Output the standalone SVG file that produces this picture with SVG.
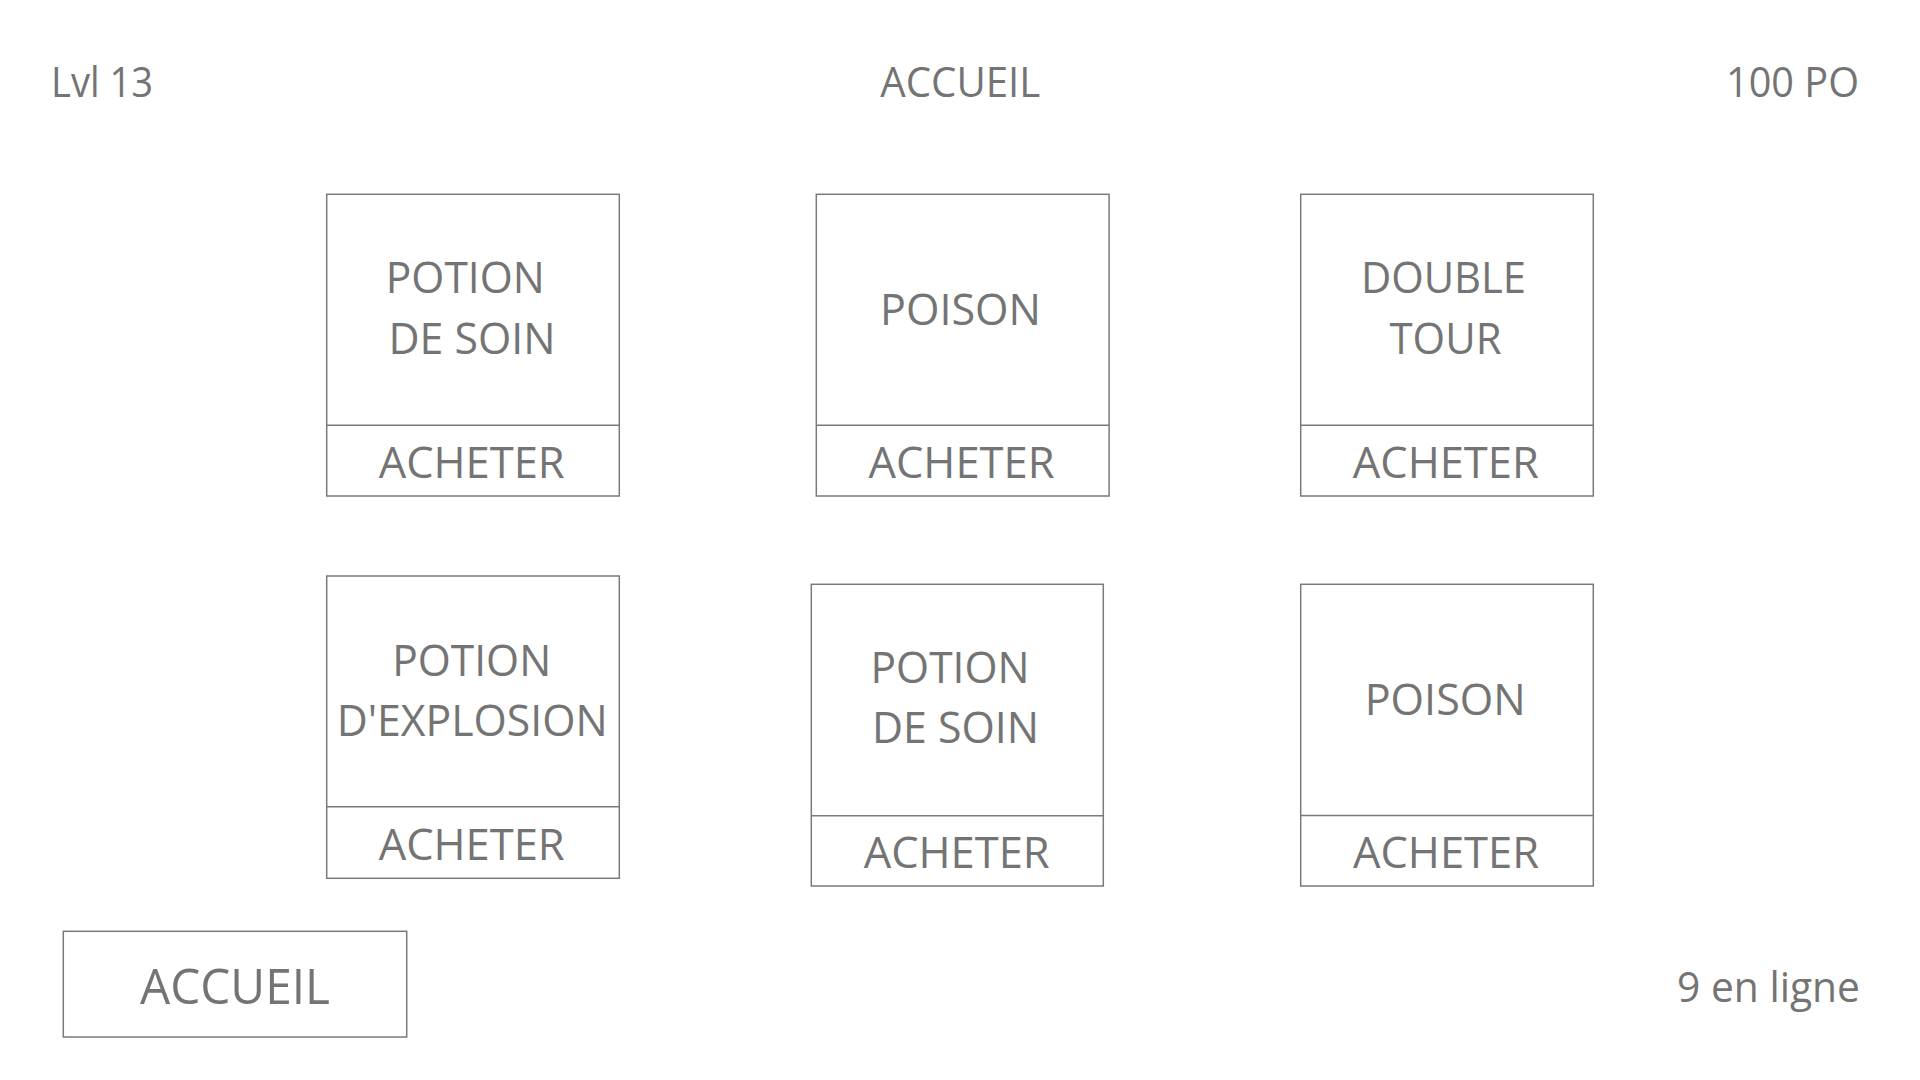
<svg xmlns="http://www.w3.org/2000/svg" width="1920" height="1080" viewBox="0 0 1920 1080">
<style>
  .box { fill: #ffffff; stroke: #7a7a7a; stroke-width: 1.5; }
  .div { stroke: #7a7a7a; stroke-width: 1.5; }
  text { font-family: "Open Sans", "Noto Sans", "Liberation Sans", sans-serif; font-weight: 400; fill: #747474; }
  .lbl { font-size: 44px; text-anchor: middle; }
  .hdr { font-size: 42px; }
  .btn { font-size: 50px; text-anchor: middle; }
</style>
<rect width="1920" height="1080" fill="#ffffff"/>

<g id="header">
  <text class="hdr" x="51" y="96.5" textLength="102" lengthAdjust="spacingAndGlyphs">Lvl 13</text>
  <text class="hdr" x="960.3" y="96.5" text-anchor="middle" textLength="160" lengthAdjust="spacingAndGlyphs">ACCUEIL</text>
  <text class="hdr" x="1859" y="96.5" text-anchor="end" textLength="133" lengthAdjust="spacingAndGlyphs">100 PO</text>
</g>

<g id="item-potion-soin-1">
  <rect class="box" x="326.7" y="194.3" width="292.6" height="301.7"/>
  <line class="div" x1="326.7" y1="425.3" x2="619.3" y2="425.3"/>
  <text class="lbl" x="465.3" y="293.3" textLength="159" lengthAdjust="spacingAndGlyphs">POTION</text>
  <text class="lbl" x="472" y="353.5" textLength="167" lengthAdjust="spacingAndGlyphs">DE SOIN</text>
  <text class="lbl" x="471.7" y="477.5" textLength="186" lengthAdjust="spacingAndGlyphs">ACHETER</text>
</g>

<g id="item-poison-1">
  <rect class="box" x="816.3" y="194.3" width="292.8" height="301.7"/>
  <line class="div" x1="816.3" y1="425.3" x2="1109.1" y2="425.3"/>
  <text class="lbl" x="960.5" y="325" textLength="161" lengthAdjust="spacingAndGlyphs">POISON</text>
  <text class="lbl" x="961.5" y="477.5" textLength="186" lengthAdjust="spacingAndGlyphs">ACHETER</text>
</g>

<g id="item-double-tour">
  <rect class="box" x="1300.7" y="194.3" width="292.6" height="301.7"/>
  <line class="div" x1="1300.7" y1="425.3" x2="1593.3" y2="425.3"/>
  <text class="lbl" x="1443.5" y="293.3" textLength="165" lengthAdjust="spacingAndGlyphs">DOUBLE</text>
  <text class="lbl" x="1445.5" y="354" textLength="112" lengthAdjust="spacingAndGlyphs">TOUR</text>
  <text class="lbl" x="1445.8" y="478" textLength="186" lengthAdjust="spacingAndGlyphs">ACHETER</text>
</g>

<g id="item-potion-explosion">
  <rect class="box" x="326.7" y="576" width="292.6" height="302.3"/>
  <line class="div" x1="326.7" y1="806.7" x2="619.3" y2="806.7"/>
  <text class="lbl" x="471.7" y="676" textLength="159" lengthAdjust="spacingAndGlyphs">POTION</text>
  <text class="lbl" x="472.2" y="735.7" textLength="271" lengthAdjust="spacingAndGlyphs">D'EXPLOSION</text>
  <text class="lbl" x="471.7" y="860" textLength="186" lengthAdjust="spacingAndGlyphs">ACHETER</text>
</g>

<g id="item-potion-soin-2">
  <rect class="box" x="811.3" y="584.3" width="292" height="301.7"/>
  <line class="div" x1="811.3" y1="815.7" x2="1103.3" y2="815.7"/>
  <text class="lbl" x="950" y="683.3" textLength="159" lengthAdjust="spacingAndGlyphs">POTION</text>
  <text class="lbl" x="955.5" y="743.3" textLength="167" lengthAdjust="spacingAndGlyphs">DE SOIN</text>
  <text class="lbl" x="956.7" y="867.7" textLength="186" lengthAdjust="spacingAndGlyphs">ACHETER</text>
</g>

<g id="item-poison-2">
  <rect class="box" x="1300.7" y="584.3" width="292.6" height="301.7"/>
  <line class="div" x1="1300.7" y1="815.5" x2="1593.3" y2="815.5"/>
  <text class="lbl" x="1445.2" y="715" textLength="161" lengthAdjust="spacingAndGlyphs">POISON</text>
  <text class="lbl" x="1446" y="867.7" textLength="186" lengthAdjust="spacingAndGlyphs">ACHETER</text>
</g>

<g id="btn-accueil">
  <rect class="box" x="63.3" y="931.3" width="343.4" height="105.7"/>
  <text class="btn" x="235" y="1004.3" textLength="190" lengthAdjust="spacingAndGlyphs">ACCUEIL</text>
</g>

<g id="footer">
  <text class="hdr" x="1860" y="1001.7" text-anchor="end" textLength="183" lengthAdjust="spacingAndGlyphs">9 en ligne</text>
</g>

<g id="connectors"></g>
</svg>
